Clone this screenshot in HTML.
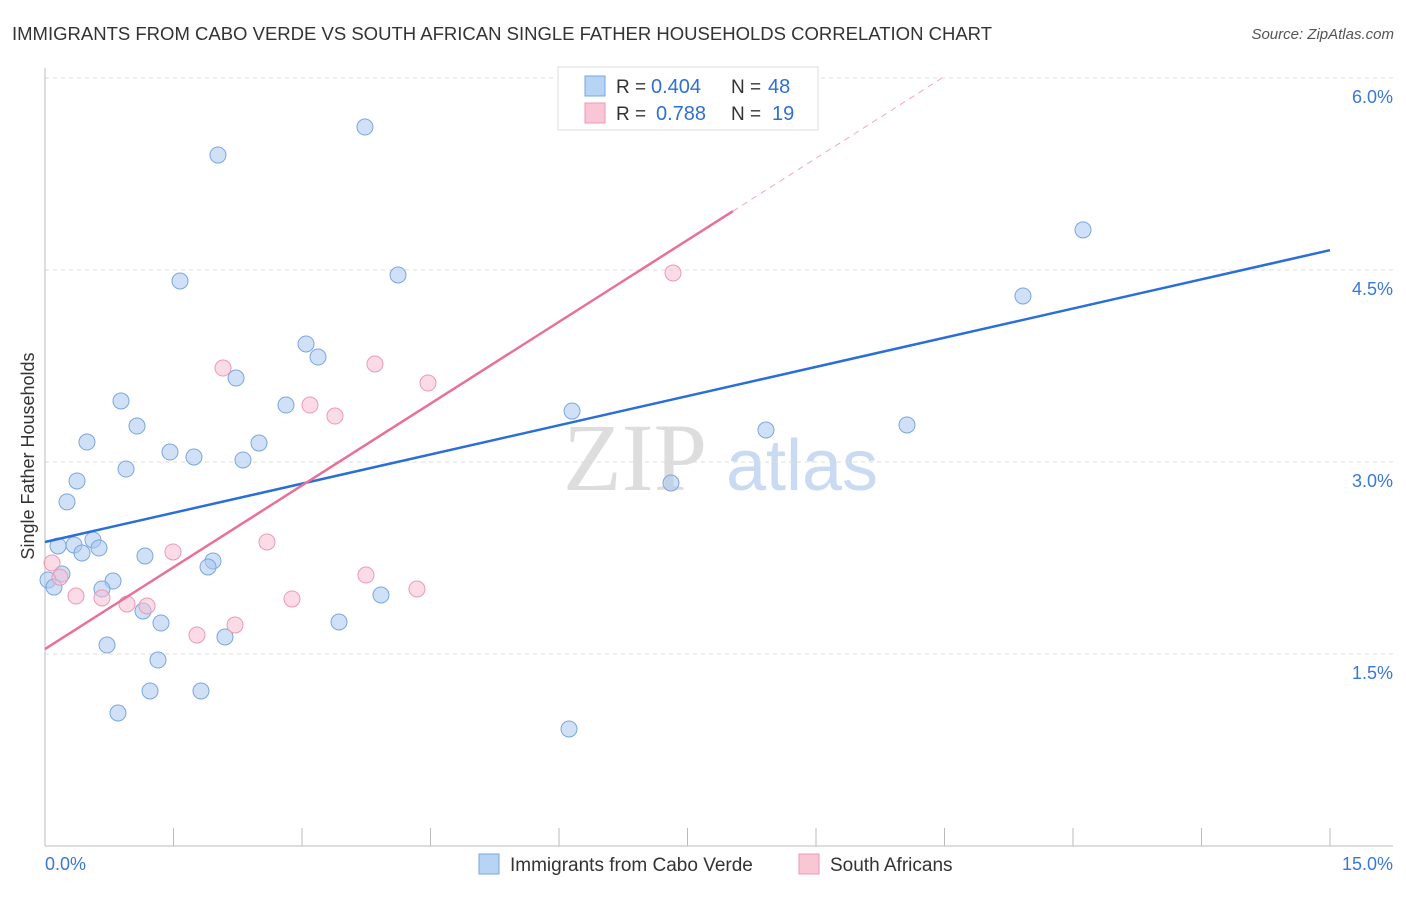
<!DOCTYPE html>
<html><head><meta charset="utf-8"><style>
body{margin:0;background:#fff;font-family:"Liberation Sans",sans-serif;}
svg text{font-family:"Liberation Sans",sans-serif;}
</style></head><body>
<svg id="c" width="1406" height="892">
<text x="12" y="40" font-size="18" fill="#333" textLength="980" lengthAdjust="spacingAndGlyphs">IMMIGRANTS FROM CABO VERDE VS SOUTH AFRICAN SINGLE FATHER HOUSEHOLDS CORRELATION CHART</text>
<text x="1394" y="39" font-size="15" fill="#555" text-anchor="end" font-style="italic">Source: ZipAtlas.com</text>
<g>
<text x="635" y="490" font-size="96" fill="#ddd" text-anchor="middle" font-family="Liberation Serif" style="font-family:'Liberation Serif',serif">ZIP</text>
<text x="802" y="490" font-size="72" fill="#c9daf2" text-anchor="middle">atlas</text>
</g>
<g id="grid"></g><g id="axes"></g><g id="marks"></g>
<text transform="translate(34,456) rotate(-90)" font-size="18" fill="#333" text-anchor="middle">Single Father Households</text>
<g>
<rect x="558" y="67" width="260" height="63" fill="#fff" stroke="#ddd"/>
<rect x="585" y="76" width="20" height="20" fill="#b8d4f5" stroke="#7aa6e0"/>
<rect x="585" y="103" width="20" height="20" fill="#f9c6d5" stroke="#ec9ab4"/>
<text x="616" y="93" font-size="19" fill="#333">R =</text>
<text x="651" y="93" font-size="20" fill="#2f6fd6">0.404</text>
<text x="731" y="93" font-size="19" fill="#333">N =</text>
<text x="768" y="93" font-size="20" fill="#2f6fd6">48</text>
<text x="616" y="120" font-size="19" fill="#333">R =</text>
<text x="656" y="120" font-size="20" fill="#2f6fd6">0.788</text>
<text x="731" y="120" font-size="19" fill="#333">N =</text>
<text x="772" y="120" font-size="20" fill="#2f6fd6">19</text>
</g>
<g>
<rect x="479" y="854" width="20" height="20" fill="#b8d4f5" stroke="#7aa6e0"/>
<text x="510" y="871" font-size="19" fill="#333">Immigrants from Cabo Verde</text>
<rect x="799" y="854" width="20" height="20" fill="#f9c6d5" stroke="#ec9ab4"/>
<text x="830" y="871" font-size="19" fill="#333">South Africans</text>
</g>
</svg>
<script>
const blueX=[3.735,2.019,4.121,1.576,12.117,11.416,3.047,3.187,2.23,0.887,2.813,6.152,1.074,0.49,2.498,1.459,1.739,2.311,0.946,0.374,7.307,8.416,10.062,0.257,0.152,0.56,0.339,0.63,0.432,1.167,1.961,1.903,0.198,0.035,0.794,0.105,0.665,3.922,1.144,1.354,3.432,2.101,0.724,1.319,1.226,1.821,0.852,6.117];
const blueY=[5.617,5.398,4.461,4.414,4.813,4.297,3.922,3.82,3.656,3.477,3.445,3.398,3.281,3.156,3.148,3.078,3.039,3.016,2.945,2.852,2.836,3.25,3.289,2.688,2.344,2.391,2.352,2.328,2.289,2.266,2.227,2.18,2.125,2.078,2.07,2.023,2.008,1.961,1.836,1.742,1.75,1.633,1.57,1.453,1.211,1.211,1.039,0.914];
const pinkX=[0.082,2.078,3.852,4.471,3.093,3.385,7.331,1.494,2.591,3.747,4.342,0.362,0.665,0.957,1.191,2.883,2.218,1.774,0.175];
const pinkY=[2.211,3.734,3.766,3.617,3.445,3.359,4.477,2.297,2.375,2.117,2.008,1.953,1.938,1.891,1.875,1.93,1.727,1.648,2.1];
const blueFit=[2.375,0.152];
const pinkFit=[1.539,0.426];
const yTicks=[1.5,3.0,4.5,6.0];
const xTicks=[0,1.5,3,4.5,6,7.5,9,10.5,12,13.5,15];
const X=v=>45+v/15*1285, Y=v=>846-v*128;
const NS='http://www.w3.org/2000/svg';
function mk(p,t,a){const e=document.createElementNS(NS,t);for(const k in a)e.setAttribute(k,a[k]);document.getElementById(p).appendChild(e);return e;}
yTicks.forEach(t=>{
 let l=mk('grid','line',{x1:45,x2:1393,y1:Y(t),y2:Y(t),stroke:'#ddd','stroke-dasharray':'4,4'});
 
 
 let tx=mk('grid','text',{x:1393,y:Y(t)+25,'font-size':18,fill:'#3a78d8','text-anchor':'end'});tx.textContent=t.toFixed(1)+'%';
 
 
});
let ax=mk('axes','line',{x1:45,x2:1393,y1:846,y2:846,stroke:'#bbb'});


let ay=mk('axes','line',{x1:45,x2:45,y1:68,y2:846,stroke:'#bbb'});


xTicks.forEach(t=>{let l=mk('axes','line',{x1:X(t),x2:X(t),y1:828,y2:846,stroke:'#bbb'});
 
 });
[[0,'0.0%','start',45],[15,'15.0%','end',1393]].forEach(d=>{let tx=mk('axes','text',{x:d[3],y:870,'font-size':18,fill:'#3a78d8','text-anchor':d[2]});tx.textContent=d[1];
 
 });
blueX.forEach((x,i)=>{let c=mk('marks','circle',{cx:X(x),cy:Y(blueY[i]),r:8,fill:'rgba(170,200,240,0.55)',stroke:'#7aa6e0','stroke-width':1});
 
 });
pinkX.forEach((x,i)=>{let c=mk('marks','circle',{cx:X(x),cy:Y(pinkY[i]),r:8,fill:'rgba(248,190,210,0.55)',stroke:'#ec9ab4','stroke-width':1});
 
 });
let bl=mk('marks','line',{x1:X(0),y1:Y(blueFit[0]),x2:X(15),y2:Y(blueFit[0]+blueFit[1]*15),stroke:'#2a6fd6','stroke-width':2.5});


let pl=mk('marks','line',{x1:X(0),y1:Y(pinkFit[0]),x2:X(8.03),y2:Y(pinkFit[0]+pinkFit[1]*8.03),stroke:'#e8709a','stroke-width':2.5});


let xe=(6.0-pinkFit[0])/pinkFit[1];
let pd=mk('marks','line',{x1:X(8.03),y1:Y(pinkFit[0]+pinkFit[1]*8.03),x2:X(xe),y2:Y(6.0),stroke:'#f0a8c0','stroke-width':1,'stroke-dasharray':'6,5'});


</script>
</body></html>
